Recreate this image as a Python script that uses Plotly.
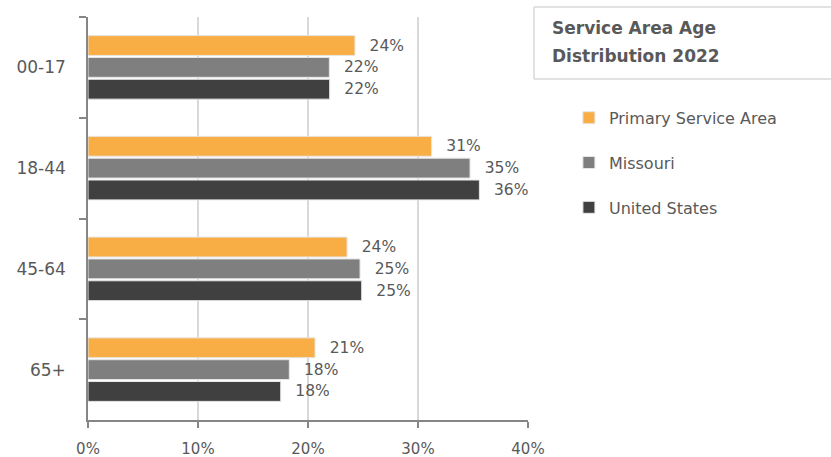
import plotly.graph_objects as go

categories = ["00-17", "18-44", "45-64", "65+"]
primary = [24.27, 31.24, 23.55, 20.64]
missouri = [21.94, 34.73, 24.73, 18.30]
united_states = [21.97, 35.58, 24.88, 17.52]
series_names = ["Primary Service Area", "Missouri", "United States"]
colors = ["#F9AE45", "#7F7F7F", "#404040"]
x_ticks = [0, 10, 20, 30, 40]
x_tick_labels = ["0%", "10%", "20%", "30%", "40%"]
title_lines = ["Service Area Age", "Distribution 2022"]

FONT = "DejaVu Sans"
TXT = "#595959"

fig = go.Figure()
for i, (name, vals) in enumerate(zip(series_names, [primary, missouri, united_states])):
    fig.add_trace(go.Bar(
        y=categories, x=vals, name=name, orientation="h",
        marker=dict(color=colors[i], line=dict(color="#e6e6e6", width=1)),
        text=[f"\u2002\u2005{v:.0f}%" for v in vals],
        textposition="outside", constraintext="none", cliponaxis=False,
        textfont=dict(family=FONT, size=15.5, color=TXT),
        legendgroup=name,
    ))

box_line = dict(color="#d9d9d9", width=1.5)
bx0, bx1, by0, by1 = 1.0136, 1.85, 0.846, 1.0248

fig.update_layout(
    width=831, height=457,
    margin=dict(l=88, r=303, t=17, b=37, autoexpand=False),
    paper_bgcolor="white", plot_bgcolor="white",
    barmode="group", bargap=0.35, bargroupgap=0.09,
    font=dict(family=FONT, color=TXT),
    legend=dict(
        x=1.093, y=0.792, xanchor="left", yanchor="top",
        font=dict(family=FONT, size=16, color=TXT),
        tracegroupgap=21, itemwidth=30,
    ),
    xaxis=dict(
        range=[0, 40], tickvals=x_ticks, ticktext=x_tick_labels,
        showgrid=True, gridcolor="#d9d9d9", gridwidth=1.5,
        showline=True, linecolor="#868686", linewidth=1.5,
        ticks="outside", ticklen=6, tickcolor="#868686", tickwidth=1.5,
        zeroline=False, tickfont=dict(family=FONT, size=15, color=TXT),
        ticklabelstandoff=8, automargin=False,
    ),
    yaxis=dict(
        autorange="reversed", showgrid=False,
        showline=True, linecolor="#868686", linewidth=1.5,
        ticks="outside", ticklen=7, tickcolor="#868686", tickwidth=1.5,
        tickson="boundaries", tickfont=dict(family=FONT, size=17, color=TXT),
        ticklabelstandoff=17, automargin=False,
    ),
    shapes=[
        dict(type="line", xref="paper", yref="paper", x0=bx0, x1=bx1, y0=by1, y1=by1, line=box_line),
        dict(type="line", xref="paper", yref="paper", x0=bx0, x1=bx1, y0=by0, y1=by0, line=box_line),
        dict(type="line", xref="paper", yref="paper", x0=bx0, x1=bx0, y0=by0, y1=by1, line=box_line),
    ],
    annotations=[
        dict(text=f"<b>{title_lines[0]}</b>", xref="paper", yref="paper",
             x=1.05, y=1 - (28 - 17) / 403, xanchor="left", yanchor="middle",
             showarrow=False, font=dict(family=FONT, size=17, color=TXT)),
        dict(text=f"<b>{title_lines[1]}</b>", xref="paper", yref="paper",
             x=1.05, y=1 - (56 - 17) / 403, xanchor="left", yanchor="middle",
             showarrow=False, font=dict(family=FONT, size=17, color=TXT)),
    ],
)

fig.write_html("out.html", config={"displayModeBar": False},
               post_script="document.body.style.margin='0';")
